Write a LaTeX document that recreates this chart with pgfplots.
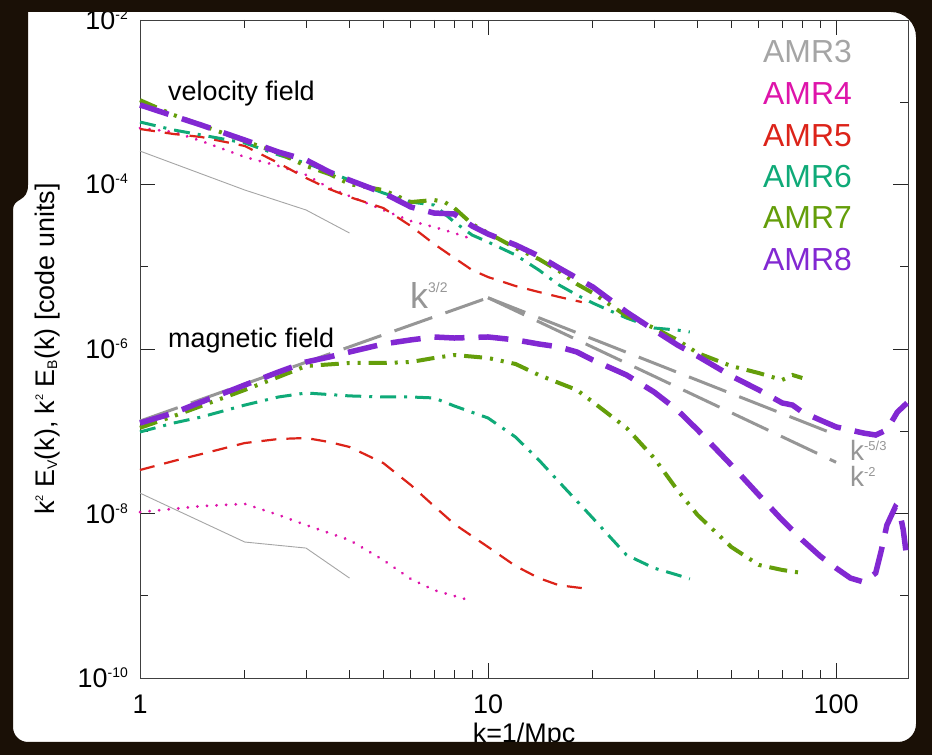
\documentclass[border=0pt]{standalone}
\usepackage{fontspec}
\setmainfont{Liberation Sans}
\usepackage{pgfplots}
\pgfplotsset{compat=1.18}

\definecolor{framedark}{RGB}{26,16,6}
\definecolor{amrthree}{RGB}{165,165,165}
\definecolor{amrfour}{RGB}{222,20,170}
\definecolor{amrfive}{RGB}{220,35,25}
\definecolor{amrsix}{RGB}{15,170,120}
\definecolor{amrseven}{RGB}{100,158,10}
\definecolor{amreight}{RGB}{130,40,210}
\definecolor{refline}{RGB}{150,150,150}

\newcommand{\fs}[1]{\fontsize{#1}{#1}\selectfont}
\newcommand{\dec}[1]{{\fs{27}10}\raisebox{10bp}{\fs{14}#1}}
\newcommand{\sups}[1]{\raisebox{11bp}{\fs{11}#1}}
\newcommand{\subs}[1]{\raisebox{-3bp}{\fs{14}#1}}

% outline of the white panel behind the plot
\def\panel{(28,743) -- (891,743) arc[start angle=90, end angle=0, radius=25]
  -- (916,31) arc[start angle=0, end angle=-90, radius=18]
  -- (28,13) arc[start angle=270, end angle=180, radius=15]
  -- (13,545) .. controls (13,558) and (28,552) .. (28,570) -- cycle}

\begin{document}
\begin{tikzpicture}[x=1bp,y=1bp]
\useasboundingbox (0,0) rectangle (932,755);
\fill[white] \panel;
\begin{axis}[
  at={(140bp,77bp)}, anchor=south west,
  width=768bp, height=658bp, scale only axis,
  clip=false,
  xmode=log, ymode=log,
  xmin=1, xmax=161, ymin=1e-10, ymax=1e-2,
  xtick={1,10,100}, xticklabels={1,10,100},
  minor xtick={2,3,4,5,6,7,8,9,20,30,40,50,60,70,80,90},
  ytick={1e-10,1e-8,1e-6,1e-4,1e-2},
  yticklabels={\dec{-10},\dec{-8},\dec{-6},\dec{-4},\dec{-2}},
  minor ytick={1e-9,1e-7,1e-5,1e-3},
  major tick length=15bp, minor tick length=8bp,
  tick style={black!85, line width=0.8bp},
  axis line style={black!75, line width=0.8bp},
  xticklabel style={anchor=base, inner sep=0pt, yshift=-35bp, font=\fs{27}},
  yticklabel style={anchor=base east, inner sep=0pt, xshift=-12bp, yshift=-9.5bp},
]
% ---------------- AMR3 ----------------
\addplot[amrthree, line width=0.9bp] coordinates {(1,2.55e-4) (2,8.57e-5) (3,4.9e-5) (4,2.57e-5)};
\addplot[amrthree, line width=0.9bp] coordinates {(1,1.77e-8) (2,4.5e-9) (3,3.8e-9) (4,1.64e-9)};
% ---------------- AMR4 ----------------
\addplot[amrfour, line width=3bp, line cap=round, dash pattern=on 0.1bp off 9.5bp] coordinates {
 (1,4.86e-4) (1.25,4.35e-4) (1.5,3.38e-4) (2,2.16e-4) (2.5,1.68e-4) (3,1.31e-4)
 (3.5,9.06e-5) (4,7.24e-5) (5,4.9e-5) (6,3.6e-5) (7,3.04e-5) (8,2.57e-5) (8.8,2.24e-5)};
\addplot[amrfour, line width=3bp, line cap=round, dash pattern=on 0.1bp off 9.5bp] coordinates {
 (1,1.04e-8) (1.5,1.23e-8) (2,1.31e-8) (2.5,9.6e-9) (3,7.24e-9) (4,4.76e-9)
 (5,2.72e-9) (6,1.6e-9) (7,1.17e-9) (8.8,8.87e-10)};
% ---------------- AMR5 ----------------
\addplot[amrfive, line width=2.2bp, dash pattern=on 15bp off 10bp] coordinates {
 (1,4.73e-4) (1.25,4.11e-4) (1.5,3.78e-4) (2,2.94e-4) (2.5,1.82e-4) (3,1.2e-4)
 (3.5,8.8e-5) (4,7.05e-5) (5,5.18e-5) (6,3.13e-5) (7,1.89e-5) (8,1.28e-5)
 (9,9.12e-6) (10,7.5e-6) (12,5.83e-6) (14,4.93e-6) (16,4.29e-6) (18.6,3.72e-6)};
\addplot[amrfive, line width=2.2bp, dash pattern=on 15bp off 10bp] coordinates {
 (1,3.38e-8) (1.25,4.35e-8) (1.5,5.28e-8) (2,7.19e-8) (2.5,8.05e-8) (3,8.28e-8)
 (3.5,7.4e-8) (4,6.44e-8) (5,4.11e-8) (6,2.22e-8) (7,1.23e-8) (8,7.45e-9)
 (10,3.92e-9) (12,2.3e-9) (14,1.64e-9) (16,1.34e-9) (18.6,1.24e-9)};
% ---------------- AMR6 ----------------
\addplot[amrsix, line width=3bp, dash pattern=on 16bp off 8bp on 3bp off 8bp] coordinates {
 (1,5.75e-4) (1.25,4.6e-4) (1.5,4.0e-4) (2,3.2e-4) (2.5,2.29e-4) (3,1.82e-4)
 (3.5,1.42e-4) (4,1.13e-4) (5,7.89e-5) (6,6.12e-5) (7,5.63e-5) (8,3.5e-5)
 (9,2.43e-5) (10,2.0e-5) (12,1.39e-5) (14,9.12e-6) (16,6.0e-6) (18,4.54e-6)
 (20,3.62e-6) (25,2.38e-6) (30,1.8e-6) (35,1.7e-6) (38,1.61e-6)};
\addplot[amrsix, line width=3bp, dash pattern=on 16bp off 8bp on 3bp off 8bp] coordinates {
 (1,9.8e-8) (1.25,1.26e-7) (1.5,1.49e-7) (2,2.08e-7) (2.5,2.61e-7) (3,2.92e-7)
 (4,2.69e-7) (5,2.61e-7) (6,2.61e-7) (7,2.54e-7) (8,2.03e-7) (10,1.45e-7)
 (12,8.5e-8) (14,4.47e-8) (16,2.42e-8) (18,1.42e-8) (20,8.8e-9) (25,3.13e-9)
 (30,2.17e-9) (35,1.79e-9) (38,1.6e-9)};
% ---------------- power-law guides ----------------
\addplot[refline, line width=3bp, dash pattern=on 40bp off 14bp] coordinates {(1,1.33e-7) (10,4.2e-6)};
\addplot[refline, line width=3bp, dash pattern=on 40bp off 14bp] coordinates {(10,4.2e-6) (100,9.05e-8)};
\addplot[refline, line width=3bp, dash pattern=on 40bp off 14bp] coordinates {(10,4.2e-6) (100,4.2e-8)};
% ---------------- AMR7 ----------------
\addplot[amrseven, line width=4bp, dash pattern=on 18bp off 8bp on 3bp off 8bp on 3bp off 8bp] coordinates {
 (1,1.06e-3) (1.25,7.0e-4) (1.5,5.28e-4) (2,3.38e-4) (2.5,2.42e-4) (3,1.68e-4)
 (3.5,1.34e-4) (4,1.01e-4) (5,8.57e-5) (6,6.12e-5) (7,6.48e-5) (7.5,6.12e-5)
 (8,5.18e-5) (9,3.31e-5) (10,2.57e-5) (12,1.69e-5) (14,1.24e-5) (16,8.87e-6)
 (18,6.17e-6) (20,4.8e-6) (25,2.52e-6) (30,1.8e-6) (35,1.29e-6) (40,8.93e-7)
 (50,6.21e-7) (60,5.1e-7) (70,4.2e-7) (75,4.83e-7) (80,4.44e-7)};
\addplot[amrseven, line width=4bp, dash pattern=on 18bp off 8bp on 3bp off 8bp on 3bp off 8bp] coordinates {
 (1,1.1e-7) (1.25,1.53e-7) (1.5,2.03e-7) (2,3.18e-7) (2.5,4.57e-7) (3,6.21e-7)
 (4,6.76e-7) (5,6.76e-7) (6,6.95e-7) (7,7.78e-7) (8,8.45e-7) (10,7.78e-7)
 (12,6.57e-7) (14,4.83e-7) (16,3.86e-7) (18,3.18e-7) (20,2.27e-7) (25,1.1e-7)
 (30,4.73e-8) (35,1.93e-8) (40,9.6e-9) (50,3.92e-9) (60,2.37e-9) (70,2.06e-9)
 (80,1.89e-9)};
% ---------------- AMR8 ----------------
\addplot[amreight, line width=5.5bp, dash pattern=on 30bp off 14bp] coordinates {
 (1,9.27e-4) (1.25,6.8e-4) (1.5,5.28e-4) (2,3.47e-4) (2.5,2.48e-4) (3,1.99e-4)
 (3.5,1.42e-4) (4,1.13e-4) (5,7.9e-5) (6,5.33e-5) (7,4.5e-5) (8,4.38e-5)
 (9,3.13e-5) (10,2.5e-5) (12,1.84e-5) (14,1.35e-5) (16,9.66e-6) (18,7.3e-6)
 (20,5.68e-6) (25,2.82e-6) (30,1.7e-6) (35,1.12e-6) (40,8.2e-7) (50,4.7e-7)
 (60,3.18e-7) (70,2.21e-7) (75,2.08e-7) (80,1.71e-7) (90,1.37e-7) (100,1.13e-7)
 (120,9.5e-8) (130,9.0e-8) (140,1.04e-7) (150,1.71e-7) (160,2.21e-7)};
\addplot[amreight, line width=5.5bp, dash pattern=on 30bp off 14bp] coordinates {
 (1,1.26e-7) (1.25,1.67e-7) (1.5,2.27e-7) (2,3.65e-7) (2.5,5.25e-7) (3,6.95e-7)
 (3.5,8.0e-7) (4,9.2e-7) (5,1.15e-6) (6,1.29e-6) (7,1.4e-6) (8,1.36e-6)
 (10,1.4e-6) (12,1.29e-6) (14,1.15e-6) (16,1.06e-6) (18,9.2e-7) (20,7.35e-7)
 (25,4.83e-7) (30,3.0e-7) (35,1.81e-7) (40,1.04e-7) (50,3.89e-8) (60,1.68e-8)
 (70,8.34e-9) (80,4.76e-9) (90,3.04e-9) (100,2.17e-9) (110,1.64e-9) (120,1.47e-9)
 (130,1.89e-9) (135,3.6e-9) (140,7.24e-9) (148,1.2e-8) (152,1.1e-8) (156,6.3e-9)
 (160,2.72e-9)};

% annotations
\node[anchor=base west, inner sep=0pt] at (rel axis cs:0.0365,0.877) {\fs{27}velocity field};
\node[anchor=base west, inner sep=0pt] at (rel axis cs:0.0365,0.503) {\fs{27}magnetic field};
\node[anchor=base west, inner sep=0pt, text=refline] at (rel axis cs:0.3516,0.5623) {\fs{36}k\raisebox{16bp}{\fs{14}3/2}};
\node[anchor=base west, inner sep=0pt, text=refline] at (rel axis cs:0.9245,0.3313) {\fs{28}k\raisebox{10bp}{\fs{13}-5/3}};
\node[anchor=base west, inner sep=0pt, text=refline] at (rel axis cs:0.9245,0.2903) {\fs{28}k\raisebox{10bp}{\fs{13}-2}};

\node[anchor=base east, inner sep=0pt, text=amrthree] at (rel axis cs:0.927,0.936) {\fs{32}AMR3};
\node[anchor=base east, inner sep=0pt, text=amrfour] at (rel axis cs:0.927,0.872) {\fs{32}AMR4};
\node[anchor=base east, inner sep=0pt, text=amrfive] at (rel axis cs:0.927,0.8085) {\fs{32}AMR5};
\node[anchor=base east, inner sep=0pt, text=amrsix] at (rel axis cs:0.927,0.7447) {\fs{32}AMR6};
\node[anchor=base east, inner sep=0pt, text=amrseven] at (rel axis cs:0.927,0.6824) {\fs{32}AMR7};
\node[anchor=base east, inner sep=0pt, text=amreight] at (rel axis cs:0.927,0.620) {\fs{32}AMR8};

\node[anchor=base, inner sep=0pt] at (rel axis cs:0.5,-0.0973) {\fs{27}k=1/Mpc};
\node[rotate=90, anchor=center, inner sep=0pt] at (rel axis cs:-0.121,0.5)
  {\fs{27}k\sups{2} E\subs{V}(k), k\sups{2} E\subs{B}(k) [code units]};
\end{axis}
\fill[framedark, even odd rule] (0,0) rectangle (932,755) \panel;
\end{tikzpicture}
\end{document}
